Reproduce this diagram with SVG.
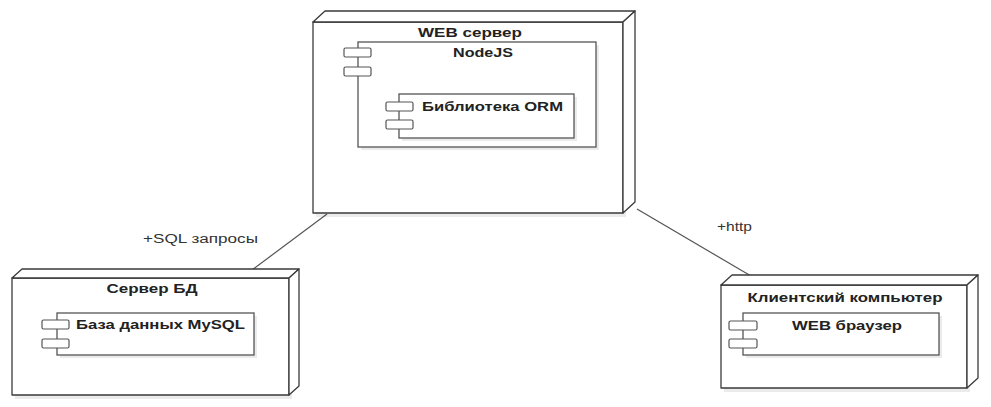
<svg xmlns="http://www.w3.org/2000/svg" width="991" height="407" viewBox="0 0 991 407">
<style>
.face{fill:#fff;stroke:#3a3a3a;stroke-width:1.3;stroke-linejoin:round}
.side{fill:#fff;stroke:#3a3a3a;stroke-width:1.3;stroke-linejoin:round}
.comp{fill:#fff;stroke:#555;stroke-width:1.3}
.ico{fill:#fff;stroke:#555;stroke-width:1.2}
.shadow{fill:#000;opacity:0.08}
.t{font-family:"Liberation Sans",Arial,sans-serif;font-weight:bold;font-size:12px;fill:#222}
.lbl{font-family:"Liberation Sans",Arial,sans-serif;font-size:12px;fill:#333}
.edge{stroke:#555;stroke-width:1.2;fill:none}
</style>
<rect width="991" height="407" fill="#fff"/>
<g id="connectors">
<line class="edge" x1="327" y1="214" x2="252" y2="270"/>
<line class="edge" x1="637" y1="209" x2="751" y2="276"/>
<text class="lbl" x="143" y="243" textLength="115" lengthAdjust="spacingAndGlyphs">+SQL запросы</text>
<text class="lbl" x="717" y="231" textLength="35" lengthAdjust="spacingAndGlyphs">+http</text>
</g>
<g id="web-server">
<rect class="shadow" x="316" y="25" width="310" height="192"/>
<rect class="face" x="313" y="22" width="310" height="191"/>
<polygon class="side" points="313,22 325,11 635,11 623,22"/>
<polygon class="side" points="623,22 635,11 635,202 623,213"/>
<text class="t" x="470" y="37" text-anchor="middle" textLength="104" lengthAdjust="spacingAndGlyphs">WEB сервер</text>
<g id="nodejs">
<rect class="shadow" x="361" y="45" width="238" height="105"/>
<rect class="comp" x="358" y="42" width="238" height="105"/>
<rect class="ico" x="344" y="48" width="27" height="9" rx="1.5"/>
<rect class="ico" x="344" y="67" width="27" height="9" rx="1.5"/>
<text class="t" x="483" y="57" text-anchor="middle" textLength="60" lengthAdjust="spacingAndGlyphs">NodeJS</text>
</g>
<g id="orm">
<rect class="shadow" x="402" y="97" width="175" height="44"/>
<rect class="comp" x="399" y="94" width="175" height="44"/>
<rect class="ico" x="386" y="102" width="27" height="9" rx="1.5"/>
<rect class="ico" x="386" y="120" width="27" height="9" rx="1.5"/>
<text class="t" x="422" y="111" textLength="141" lengthAdjust="spacingAndGlyphs">Библиотека ORM</text>
</g>
</g>
<g id="db-server">
<rect class="shadow" x="15" y="281" width="277" height="118"/>
<rect class="face" x="12" y="278" width="277" height="117"/>
<polygon class="side" points="12,278 22,269 299,269 289,278"/>
<polygon class="side" points="289,278 299,269 299,386 289,395"/>
<text class="t" x="152" y="293" text-anchor="middle" textLength="91" lengthAdjust="spacingAndGlyphs">Сервер БД</text>
<g id="mysql">
<rect class="shadow" x="60" y="316" width="197" height="42"/>
<rect class="comp" x="57" y="313" width="197" height="42"/>
<rect class="ico" x="42" y="320" width="27" height="9" rx="1.5"/>
<rect class="ico" x="42" y="339" width="27" height="9" rx="1.5"/>
<text class="t" x="76" y="329" textLength="169" lengthAdjust="spacingAndGlyphs">База данных MySQL</text>
</g>
</g>
<g id="client">
<rect class="shadow" x="724" y="288" width="246" height="104"/>
<rect class="face" x="721" y="285" width="246" height="103"/>
<polygon class="side" points="721,285 732,275 978,275 967,285"/>
<polygon class="side" points="967,285 978,275 978,378 967,388"/>
<text class="t" x="845" y="302" text-anchor="middle" textLength="195" lengthAdjust="spacingAndGlyphs">Клиентский компьютер</text>
<g id="browser">
<rect class="shadow" x="746" y="316" width="196" height="42"/>
<rect class="comp" x="743" y="313" width="196" height="42"/>
<rect class="ico" x="729" y="321" width="28" height="9" rx="1.5"/>
<rect class="ico" x="729" y="339" width="28" height="9" rx="1.5"/>
<text class="t" x="847" y="330" text-anchor="middle" textLength="110" lengthAdjust="spacingAndGlyphs">WEB браузер</text>
</g>
</g>
</svg>
